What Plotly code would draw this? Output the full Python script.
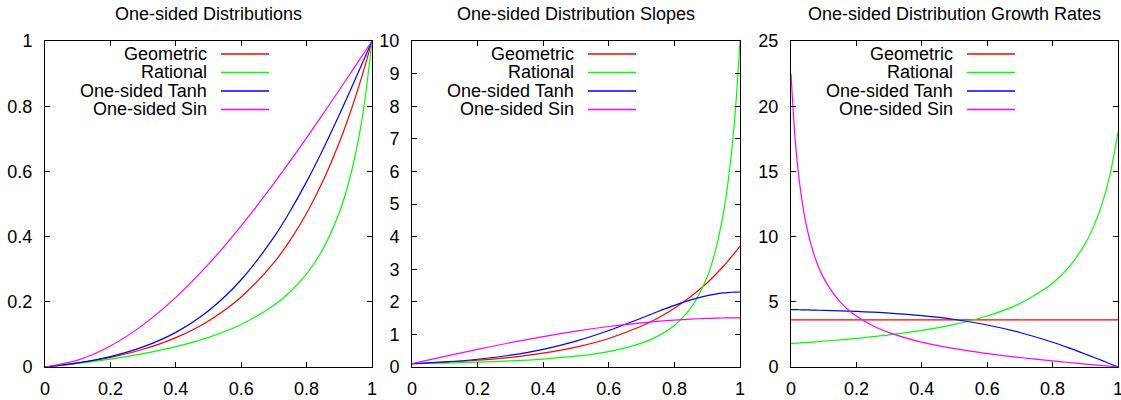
import plotly.graph_objects as go

# ---------------- data ----------------
series_names = ["Geometric", "Rational", "One-sided Tanh", "One-sided Sin"]
series_colors = ["#ff0000", "#00ff00", "#0000ff", "#ff00ff"]
panel_titles = ["One-sided Distributions", "One-sided Distribution Slopes",
                "One-sided Distribution Growth Rates"]

# Panel 1: distributions
x_dist = [0, 0.1, 0.2, 0.3, 0.4, 0.5, 0.6, 0.7, 0.75, 0.8, 0.85, 0.9, 0.925, 0.95, 0.975, 1.0]
dist_geometric = [0, 0.0121, 0.0294, 0.0543, 0.0900, 0.1413, 0.2148, 0.3202, 0.3892, 0.4715, 0.5705,
                  0.6886, 0.7562, 0.8303, 0.9113, 1.0]
dist_rational = [0, 0.0110, 0.0244, 0.0411, 0.0625, 0.0909, 0.1304, 0.1892, 0.2308, 0.2857, 0.3617,
                 0.4737, 0.5522, 0.6552, 0.7959, 1.0]
dist_tanh = [0, 0.0126, 0.0319, 0.0616, 0.1063, 0.1725, 0.2676, 0.3985, 0.4787, 0.5686, 0.6675,
             0.7737, 0.8291, 0.8855, 0.9426, 1.0]
dist_sin = [0, 0.0213, 0.0647, 0.1292, 0.2134, 0.3154, 0.4328, 0.5630, 0.6320, 0.7031, 0.7758,
            0.8498, 0.8872, 0.9247, 0.9623, 1.0]

# Panel 2: slopes
x_slope = [0, 0.1, 0.2, 0.3, 0.4, 0.5, 0.6, 0.7, 0.75, 0.8, 0.85, 0.9, 0.925, 0.95, 0.9625, 0.975, 0.9875, 1.0]
slope_geometric = [0.1004, 0.1441, 0.2067, 0.2966, 0.4255, 0.6104, 0.8758, 1.2565, 1.5055, 1.8027, 2.1600,
                   2.5863, 2.8304, 3.0978, 3.2408, 3.3903, 3.5468, 3.7105]
slope_rational = [0.1, 0.1208, 0.1487, 0.1877, 0.2441, 0.3306, 0.4726, 0.7305, 0.9467, 1.2755, 1.8108,
                  2.770, 3.564, 4.756, 5.590, 6.664, 8.080, 10.0]
slope_tanh = [0.1000, 0.1549, 0.2382, 0.3626, 0.5430, 0.7938, 1.1202, 1.5044, 1.7026, 1.8910, 2.0572,
              2.1879, 2.2362, 2.2717, 2.2843, 2.2933, 2.2987, 2.3005]
slope_sin = [0.1006, 0.3248, 0.5417, 0.7464, 0.9341, 1.1008, 1.2427, 1.3565, 1.4021, 1.4397, 1.4692,
             1.4903, 1.4978, 1.5031, 1.5050, 1.5063, 1.5071, 1.5074]

# Panel 3: growth rates
x_growth = [0, 0.0125, 0.025, 0.0375, 0.05, 0.075, 0.1, 0.15, 0.2, 0.25, 0.3, 0.4, 0.5, 0.6, 0.7,
            0.8, 0.85, 0.9, 0.925, 0.95, 0.975, 1.0]
growth_geometric = [3.61] * 22
growth_rational = [1.8, 1.8205, 1.8414, 1.8629, 1.8848, 1.9303, 1.978, 2.0809, 2.195, 2.3226, 2.4658,
                   2.8125, 3.2727, 3.9130, 4.8649, 6.4286, 7.6596, 9.4737, 10.746, 12.414, 14.694, 18.0]
growth_tanh = [4.4011, 4.3955, 4.3895, 4.3832, 4.3765, 4.3620, 4.3459, 4.3078, 4.2606, 4.2022, 4.1302,
               3.9333, 3.6419, 3.2234, 2.6472, 1.8986, 1.4636, 0.9958, 0.7523, 0.5041, 0.2529, 0.0]
growth_sin = [22.48, 17.53, 14.35, 12.146, 10.52, 8.284, 6.815, 4.996, 3.903, 3.167, 2.639,
              1.905, 1.4069, 1.0325, 0.7288, 0.4666, 0.3452, 0.2279, 0.1704, 0.1133, 0.0566, 0.0]

x_ticks = [0, 0.2, 0.4, 0.6, 0.8, 1.0]
x_tick_labels = ["0", "0.2", "0.4", "0.6", "0.8", "1"]
y1_ticks = [0, 0.2, 0.4, 0.6, 0.8, 1.0]
y1_tick_labels = ["0", "0.2", "0.4", "0.6", "0.8", "1"]
y2_ticks = list(range(0, 11))
y3_ticks = [0, 5, 10, 15, 20, 25]

# ---------------- layout ----------------
W, H = 1121, 400
panel_px = [(45, 372), (412, 740), (791, 1118)]
top_px, bot_px = 41, 367
FONT = "Liberation Sans, Arial, sans-serif"
FS = 18

fig = go.Figure()

panels = [
    (x_dist, [dist_geometric, dist_rational, dist_tanh, dist_sin]),
    (x_slope, [slope_geometric, slope_rational, slope_tanh, slope_sin]),
    (x_growth, [growth_geometric, growth_rational, growth_tanh, growth_sin]),
]

for p, (xs, ys_list) in enumerate(panels):
    xa = "x" if p == 0 else f"x{p+1}"
    ya = "y" if p == 0 else f"y{p+1}"
    for name, col, ys in zip(series_names, series_colors, ys_list):
        fig.add_trace(go.Scatter(x=xs, y=ys, mode="lines", name=name,
                                 line=dict(color=col, width=1.2, shape="spline", smoothing=0.8),
                                 xaxis=xa, yaxis=ya, showlegend=False, hoverinfo="skip"))

axis_common = dict(showline=True, linecolor="black", linewidth=1, mirror="allticks",
                   ticks="inside", ticklen=5, tickwidth=1, tickcolor="black",
                   showgrid=False, zeroline=False, automargin=False,
                   ticklabeloverflow="allow",
                   tickfont=dict(family=FONT, size=FS, color="black"))

y_domain = [1 - bot_px / H, 1 - top_px / H]
yticks = [(y1_ticks, y1_tick_labels, [0, 1]),
          (y2_ticks, [str(v) for v in y2_ticks], [0, 10]),
          (y3_ticks, [str(v) for v in y3_ticks], [0, 25])]

lay = {}
for p, (l, r) in enumerate(panel_px):
    suf = "" if p == 0 else str(p + 1)
    lay[f"xaxis{suf}"] = dict(axis_common, domain=[l / W, r / W], range=[0, 1],
                              tickvals=x_ticks, ticktext=x_tick_labels,
                              anchor=f"y{suf}", ticklabelstandoff=5)
    tv, tt, rg = yticks[p]
    lay[f"yaxis{suf}"] = dict(axis_common, domain=y_domain, range=rg,
                              tickvals=tv, ticktext=tt, anchor=f"x{suf}", ticklabelstandoff=8)

annotations = []
shapes = []
row_y = [54, 72.5, 91, 109.5]
for p, (l, r) in enumerate(panel_px):
    annotations.append(dict(text=panel_titles[p], x=(l + r) / 2 / W, y=1 - 14 / H,
                            xref="paper", yref="paper", xanchor="center", yanchor="middle",
                            showarrow=False, font=dict(family=FONT, size=FS, color="black")))
    for i, (name, col) in enumerate(zip(series_names, series_colors)):
        yy = 1 - row_y[i] / H
        annotations.append(dict(text=name, x=(l + 164) / W, y=1 - (row_y[i] - 0.5) / H,
                                xref="paper", yref="paper",
                                xanchor="right", yanchor="middle", showarrow=False,
                                font=dict(family=FONT, size=FS, color="black")))
        shapes.append(dict(type="line", xref="paper", yref="paper",
                           x0=(l + 176) / W, x1=(l + 224) / W, y0=yy, y1=yy,
                           line=dict(color=col, width=1.5)))

fig.update_layout(width=W, height=H, margin=dict(l=0, r=0, t=0, b=0),
                  paper_bgcolor="white", plot_bgcolor="white",
                  annotations=annotations, shapes=shapes, showlegend=False, **lay)

fig.write_html("out.html", config={"displayModeBar": False},
               post_script="document.body.style.margin='0';document.body.style.overflow='hidden';")
